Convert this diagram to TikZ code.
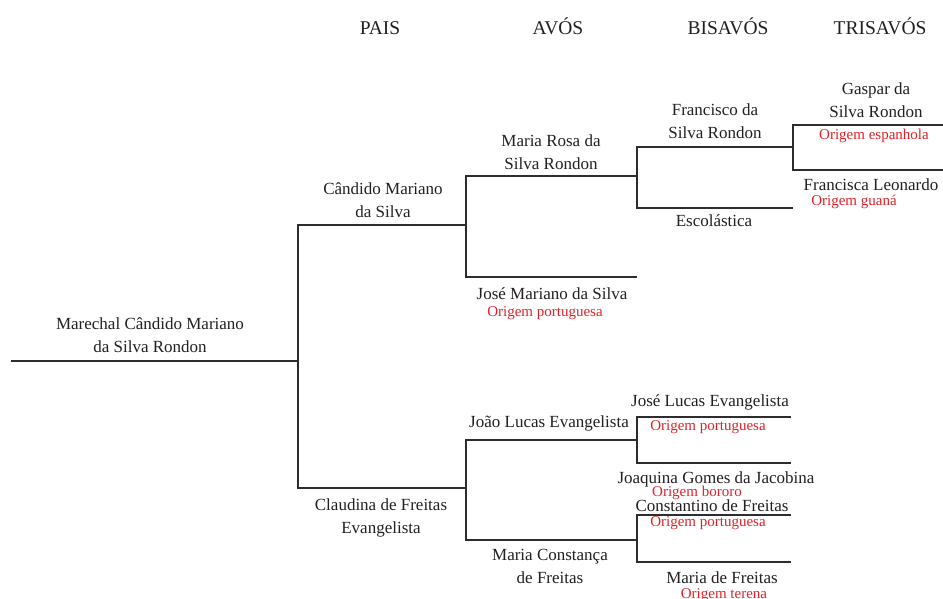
\documentclass[tikz,border=0pt]{standalone}
\usepackage{fontspec}
\setmainfont{Liberation Serif}
\definecolor{ink}{RGB}{35,31,32}
\definecolor{orig}{RGB}{228,32,40}
\definecolor{wire}{RGB}{45,45,45}
\begin{document}
\begin{tikzpicture}[x=1pt,y=-1pt,
  person/.style={font=\fontsize{17}{23}\selectfont, text=ink, align=center, inner sep=0pt, anchor=base},
  origin/.style={font=\fontsize{15}{16}\selectfont, text=orig, inner sep=0pt, anchor=base},
  header/.style={font=\fontsize{19.5}{22}\selectfont, text=ink, inner sep=0pt, anchor=base},
  tree/.style={draw=wire, line width=1.3pt}]
\useasboundingbox (0,0) rectangle (943,598);
% headers
\node[header] (hp) at (380,34) {PAIS};
\node[header] (ha) at (558,34) {AVÓS};
\node[header] (hb) at (728,34) {BISAVÓS};
\node[header] (ht) at (880,34) {TRISAVÓS};
% junction coordinates
\coordinate (r0) at (11,361); \coordinate (r1) at (298,361);
\coordinate (p1a) at (298,225); \coordinate (p1b) at (466,225);
\coordinate (p2a) at (298,488); \coordinate (p2b) at (466,488);
\coordinate (a1a) at (466,176); \coordinate (a1b) at (637,176);
\coordinate (a2a) at (466,277); \coordinate (a2b) at (637,277);
\coordinate (a3a) at (466,440); \coordinate (a3b) at (637,440);
\coordinate (a4a) at (466,540); \coordinate (a4b) at (637,540);
\coordinate (b1a) at (637,147); \coordinate (b1b) at (793,147);
\coordinate (b2a) at (637,208); \coordinate (b2b) at (793,208);
\coordinate (b3a) at (637,417); \coordinate (b3b) at (791,417);
\coordinate (b4a) at (637,463); \coordinate (b4b) at (791,463);
\coordinate (b5a) at (637,515); \coordinate (b5b) at (791,515);
\coordinate (b6a) at (637,562); \coordinate (b6b) at (791,562);
\coordinate (t1a) at (793,125); \coordinate (t1b) at (943,125);
\coordinate (t2a) at (793,170); \coordinate (t2b) at (943,170);
% tree lines
\draw[tree] (r0) -- (r1);
\draw[tree] (p1b) -- (p1a) -- (p2a) -- (p2b);
\draw[tree] (a1b) -- (a1a) -- (a2a) -- (a2b);
\draw[tree] (a3b) -- (a3a) -- (a4a) -- (a4b);
\draw[tree] (b1b) -- (b1a) -- (b2a) -- (b2b);
\draw[tree] (b3b) -- (b3a) -- (b4a) -- (b4b);
\draw[tree] (b5b) -- (b5a) -- (b6a) -- (b6b);
\draw[tree] (t1b) -- (t1a) -- (t2a) -- (t2b);
% people (two-line nodes: base = last line's baseline)
\node[person] (root) at (150,352) {Marechal Cândido Mariano\\da Silva Rondon};
\node[person] (candido) at (383,217) {Cândido Mariano\\da Silva};
\node[person] (claudina) at (381,533) {Claudina de Freitas\\Evangelista};
\node[person] (mariarosa) at (551,169) {Maria Rosa da\\Silva Rondon};
\node[person] (josemariano) at (552,299) {José Mariano da Silva};
\node[origin] (o1) at (545,316) {Origem portuguesa};
\node[person] (joao) at (549,427) {João Lucas Evangelista};
\node[person] (mariaconst) at (550,583) {Maria Constança\\de Freitas};
\node[person] (francisco) at (715,138) {Francisco da\\Silva Rondon};
\node[person] (escolastica) at (714,226) {Escolástica};
\node[person] (joselucas) at (710,406) {José Lucas Evangelista};
\node[origin] (o2) at (708,430) {Origem portuguesa};
\node[person] (joaquina) at (716,483) {Joaquina Gomes da Jacobina};
\node[origin] (o3) at (697,496) {Origem bororo};
\node[person] (constantino) at (712,511) {Constantino de Freitas};
\node[origin] (o4) at (708,526) {Origem portuguesa};
\node[person] (mariaf) at (722,583) {Maria de Freitas};
\node[origin] (o5) at (724,598) {Origem terena};
\node[person] (gaspar) at (876,117) {Gaspar da\\Silva Rondon};
\node[origin] (o6) at (874,139) {Origem espanhola};
\node[person] (francisca) at (871,190) {Francisca Leonardo};
\node[origin] (o7) at (854,205) {Origem guaná};
\end{tikzpicture}
\end{document}
